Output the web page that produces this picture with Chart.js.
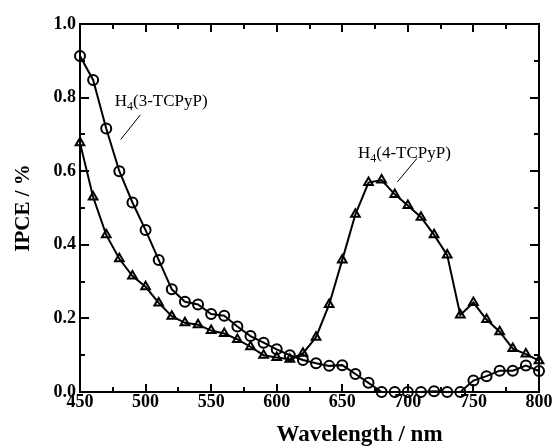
<!DOCTYPE html>
<html lang="en">
<head>
    <meta charset="UTF-8">
    <title>IPCE spectra</title>
    <script src="https://cdn.jsdelivr.net/npm/chart.js"></script>
    <style>
        body { margin: 0; background: #fff; }
        #wrap { width: 557px; height: 446px; }
    </style>
</head>
<body>
    <div id="wrap"><canvas id="ipceChart" width="557" height="446"></canvas></div>

    <script>
        // wavelengths (nm)
        var wavelengths = [450, 460, 470, 480, 490, 500, 510, 520, 530, 540, 550, 560, 570, 580, 590, 600, 610, 620,
                           630, 640, 650, 660, 670, 680, 690, 700, 710, 720, 730, 740, 750, 760, 770, 780, 790, 800];

        // H4(3-TCPyP) - circles
        var ipce3 = [0.913, 0.848, 0.716, 0.600, 0.515, 0.440, 0.359, 0.279, 0.245, 0.238, 0.212, 0.207, 0.178, 0.152,
                     0.134, 0.116, 0.100, 0.087, 0.078, 0.071, 0.073, 0.049, 0.025, 0.000, 0.000, 0.000, 0.000, 0.002,
                     0.000, 0.000, 0.031, 0.043, 0.058, 0.058, 0.072, 0.057];

        // H4(4-TCPyP) - triangles
        var ipce4 = [0.677, 0.530, 0.427, 0.362, 0.315, 0.286, 0.242, 0.206, 0.188, 0.183, 0.167, 0.159, 0.143, 0.123,
                     0.100, 0.094, 0.089, 0.105, 0.149, 0.238, 0.359, 0.483, 0.569, 0.576, 0.537, 0.507, 0.475, 0.427,
                     0.372, 0.209, 0.243, 0.197, 0.164, 0.118, 0.103, 0.085];

        var xMin = 450, xMax = 800, xMajor = 50, xMinor = 25;
        var yMin = 0, yMax = 1.0, yMajor = 0.2, yMinor = 0.1;
        var xTitle = 'Wavelength / nm';
        var yTitle = 'IPCE / %';

        // labels: [text before sub, subscript, text after, x, y (baseline), leader x1, y1, x2, y2] in data units
        var labels = [
            ['H', '4', '(3-TCPyP)', 476.5, 0.777, 496, 0.753, 481, 0.686],
            ['H', '4', '(4-TCPyP)', 662, 0.636, 707, 0.635, 692, 0.571]
        ];

        function pts(ys) {
            return wavelengths.map(function (w, i) { return { x: w, y: ys[i] }; });
        }

        var serif = "'Liberation Serif', 'Times New Roman', serif";

        // frame + inward ticks on all four sides, x title, curve labels
        var framePlugin = {
            id: 'frame',
            afterDraw: function (chart) {
                var ctx = chart.ctx, a = chart.chartArea;
                var xs = chart.scales.x, ys = chart.scales.y;
                ctx.save();
                ctx.strokeStyle = '#000';
                ctx.lineWidth = 2;
                ctx.strokeRect(a.left, a.top, a.right - a.left, a.bottom - a.top);
                ctx.beginPath();
                for (var v = xMin; v <= xMax + 0.001; v += xMinor) {
                    var px = Math.round(xs.getPixelForValue(v));
                    var len = (Math.round(v - xMin) % xMajor === 0) ? 8 : 5;
                    ctx.moveTo(px, a.bottom); ctx.lineTo(px, a.bottom - len);
                    ctx.moveTo(px, a.top); ctx.lineTo(px, a.top + len);
                }
                var k = 0;
                for (var t = yMin; t <= yMax + 0.001; t += yMinor, k++) {
                    var py = Math.round(ys.getPixelForValue(t));
                    var l2 = (k % 2 === 0) ? 9 : 5;
                    ctx.moveTo(a.left, py); ctx.lineTo(a.left + l2, py);
                    ctx.moveTo(a.right, py); ctx.lineTo(a.right - l2, py);
                }
                ctx.stroke();

                // x axis title (sits right of centre in the original)
                ctx.fillStyle = '#000';
                ctx.font = 'bold 23px ' + serif;
                ctx.textAlign = 'center';
                ctx.textBaseline = 'alphabetic';
                ctx.fillText(xTitle, (a.left + a.right) / 2 + 50, 441);
                ctx.restore();
            },
            afterDatasetsDraw: function (chart) {
                var ctx = chart.ctx;
                var xs = chart.scales.x, ys = chart.scales.y;
                ctx.save();
                ctx.fillStyle = '#000';
                ctx.strokeStyle = '#000';
                ctx.lineWidth = 1;
                ctx.textBaseline = 'alphabetic';
                labels.forEach(function (L) {
                    var x = xs.getPixelForValue(L[3]), y = ys.getPixelForValue(L[4]);
                    ctx.font = '17px ' + serif;
                    ctx.fillText(L[0], x, y);
                    x += ctx.measureText(L[0]).width;
                    ctx.font = '12px ' + serif;
                    ctx.fillText(L[1], x, y + 4);
                    x += ctx.measureText(L[1]).width;
                    ctx.font = '17px ' + serif;
                    ctx.fillText(L[2], x, y);
                    ctx.beginPath();
                    ctx.moveTo(xs.getPixelForValue(L[5]), ys.getPixelForValue(L[6]));
                    ctx.lineTo(xs.getPixelForValue(L[7]), ys.getPixelForValue(L[8]));
                    ctx.stroke();
                });
                ctx.restore();
            }
        };

        var ctx = document.getElementById('ipceChart').getContext('2d');
        var chart = new Chart(ctx, {
            type: 'line',
            data: {
                datasets: [{
                    label: 'H4(3-TCPyP)',
                    data: pts(ipce3),
                    borderColor: '#000',
                    borderWidth: 2,
                    pointStyle: 'circle',
                    pointRadius: 5,
                    pointBorderWidth: 2,
                    pointBorderColor: '#000',
                    pointBackgroundColor: 'rgba(0,0,0,0)',
                    fill: false,
                    tension: 0,
                    clip: false
                }, {
                    label: 'H4(4-TCPyP)',
                    data: pts(ipce4),
                    borderColor: '#000',
                    borderWidth: 2,
                    pointStyle: 'triangle',
                    pointRadius: 5,
                    pointBorderWidth: 2,
                    pointBorderColor: '#000',
                    pointBackgroundColor: 'rgba(0,0,0,0)',
                    fill: false,
                    tension: 0,
                    clip: false
                }]
            },
            options: {
                responsive: false,
                animation: false,
                layout: { padding: { top: 24, right: 18, left: 0, bottom: 0 } },
                plugins: {
                    legend: { display: false },
                    tooltip: { enabled: false }
                },
                scales: {
                    x: {
                        type: 'linear',
                        min: xMin,
                        max: xMax,
                        grid: { display: false, drawTicks: false },
                        border: { display: false },
                        ticks: {
                            stepSize: xMajor,
                            padding: 0,
                            color: '#000',
                            font: { family: serif, size: 18, weight: 'bold' }
                        },
                        afterFit: function (s) { s.height = 54; }
                    },
                    y: {
                        min: yMin,
                        max: yMax,
                        grid: { display: false, drawTicks: false },
                        border: { display: false },
                        ticks: {
                            stepSize: yMajor,
                            padding: 4,
                            color: '#000',
                            font: { family: serif, size: 18, weight: 'bold' },
                            callback: function (v) { return v.toFixed(1); }
                        },
                        title: {
                            display: true,
                            text: yTitle,
                            color: '#000',
                            font: { family: serif, size: 21, weight: 'bold' },
                            padding: { top: 11, bottom: 0 }
                        },
                        afterFit: function (s) { s.width = 80; }
                    }
                }
            },
            plugins: [framePlugin]
        });
    </script>
</body>
</html>
